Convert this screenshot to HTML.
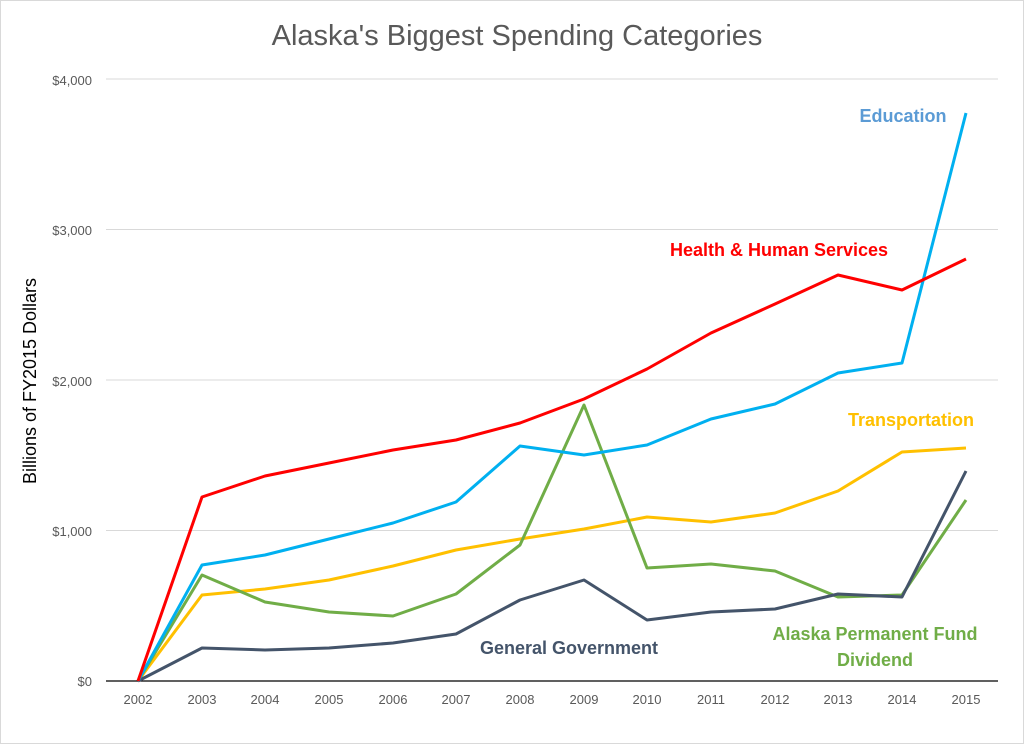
<!DOCTYPE html><html><head><style>body{margin:0;background:#fff}svg{display:block}</style></head><body>
<svg width="1024" height="745" xmlns="http://www.w3.org/2000/svg" font-family="Liberation Sans, sans-serif">
<rect x="0.5" y="0.5" width="1023" height="743" fill="#fff" stroke="#d9d9d9"/>
<text x="517" y="45" text-anchor="middle" font-size="29" fill="#595959">Alaska's Biggest Spending Categories</text>
<g stroke="#d9d9d9" stroke-width="1"><line x1="106" x2="998" y1="79" y2="79"/><line x1="106" x2="998" y1="229.5" y2="229.5"/><line x1="106" x2="998" y1="380" y2="380"/><line x1="106" x2="998" y1="530.5" y2="530.5"/></g>
<line x1="106" x2="998" y1="681" y2="681" stroke="#000" stroke-width="1.3"/>
<g font-size="13" fill="#595959" text-anchor="end"><text x="92" y="85">$4,000</text><text x="92" y="235">$3,000</text><text x="92" y="386">$2,000</text><text x="92" y="536">$1,000</text><text x="92" y="686">$0</text></g>
<g font-size="13" fill="#595959" text-anchor="middle"><text x="138" y="704">2002</text><text x="202" y="704">2003</text><text x="265" y="704">2004</text><text x="329" y="704">2005</text><text x="393" y="704">2006</text><text x="456" y="704">2007</text><text x="520" y="704">2008</text><text x="584" y="704">2009</text><text x="647" y="704">2010</text><text x="711" y="704">2011</text><text x="775" y="704">2012</text><text x="838" y="704">2013</text><text x="902" y="704">2014</text><text x="966" y="704">2015</text></g>
<text transform="translate(36,381) rotate(-90)" text-anchor="middle" font-size="18" fill="#000">Billions of FY2015 Dollars</text>
<g fill="none" stroke-width="3" stroke-linejoin="round">
<polyline stroke="#ffc000" points="138,681 202,595 265,589 329,580 393,566 456,550 520,539 584,529 647,517 711,522 775,513 838,491 902,452 966,448"/>
<polyline stroke="#70ad47" points="138,681 202,575 265,602 329,612 393,616 456,594 520,545 584,405 647,568 711,564 775,571 838,597 902,595 966,500"/>
<polyline stroke="#44546a" points="138,681 202,648 265,650 329,648 393,643 456,634 520,600 584,580 647,620 711,612 775,609 838,594 902,597 966,471"/>
<polyline stroke="#00b0f0" points="138,681 202,565 265,555 329,539 393,523 456,502 520,446 584,455 647,445 711,419 775,404 838,373 902,363 966,113"/>
<polyline stroke="#ff0000" points="138,681 202,497 265,476 329,463 393,450 456,440 520,423 584,399 647,369 711,333 775,304 838,275 902,290 966,259"/>
</g>
<g font-size="18" font-weight="bold">
<text x="903" y="122" text-anchor="middle" fill="#5b9bd5">Education</text>
<text x="779" y="256" text-anchor="middle" fill="#ff0000">Health &amp; Human Services</text>
<text x="911" y="426" text-anchor="middle" fill="#ffc000">Transportation</text>
<text x="569" y="654" text-anchor="middle" fill="#44546a">General Government</text>
<text x="875" y="640" text-anchor="middle" fill="#70ad47">Alaska Permanent Fund</text>
<text x="875" y="666" text-anchor="middle" fill="#70ad47">Dividend</text>
</g>
</svg></body></html>
